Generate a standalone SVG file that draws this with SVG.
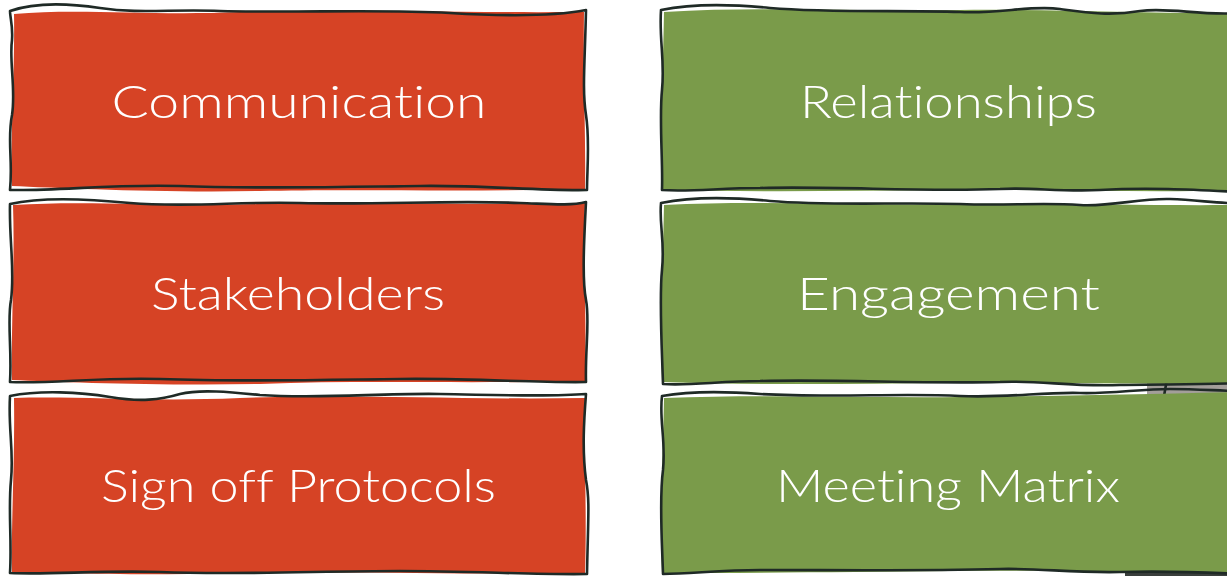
<svg xmlns="http://www.w3.org/2000/svg" width="1227" height="576" viewBox="0 0 1227 576">
<style>
.ol{fill:none;stroke:#1f2a26;stroke-width:2.6;stroke-linejoin:round;stroke-linecap:round}
.red{fill:#d64325}
.grn{fill:#7a9b4a}
.lbl{font-family:Lato,"Open Sans","Liberation Sans",sans-serif;font-weight:300;font-size:46px;fill:#ffffff;text-anchor:middle;font-variant-ligatures:none;font-feature-settings:"liga" 0,"clig" 0}
</style>
<rect width="1227" height="576" fill="#ffffff"/>
<g id="backdrop">
<path d="M1147,377 L1240,375 L1240,398 L1147,397 Z" fill="#a39e9a"/>
<path d="M1167,379 L1164,396" class="ol" stroke-width="2"/>
<path d="M1125,573 C1150,571 1190,572 1240,573 L1240,580 L1125,580 Z" fill="#3a3f3c"/>
</g>
<g id="communication">
<path class="red" d="M14,14 C80,8 150,16 240,12 C340,9 450,13 584,12 C583,80 586,140 585,189 C480,192 350,189 260,191 C160,193 60,188 12,186 C10,140 15,70 14,14 Z"/>
<path class="ol" d="M10,11 C30,4 60,2 100,8 C140,14 170,9 220,11 C300,13 380,9 450,13 C500,16 550,17 586,10 C585,60 582,90 586,115 C590,140 587,170 587,190 C540,191 480,185 420,186 C340,187 260,189 180,186 C110,184 60,191 10,190 C13,160 7,140 12,115 C16,90 9,60 12,40 C13,25 10,18 10,11 Z"/>
<text class="lbl" x="299" y="118" textLength="375" lengthAdjust="spacingAndGlyphs">Communication</text>
</g>
<g id="stakeholders">
<path class="red" d="M13,205 C90,200 160,207 260,204 C360,201 470,206 585,203 C583,260 587,330 585,381 C470,384 360,380 260,384 C160,386 60,382 12,380 C11,320 15,260 13,205 Z"/>
<path class="ol" d="M10,204 C40,197 80,198 130,203 C190,208 240,201 300,203 C380,205 450,200 520,203 C550,204 570,206 586,202 C584,240 582,280 586,300 C590,320 585,350 586,382 C540,383 470,378 400,379 C320,380 240,382 160,379 C100,377 50,384 10,382 C12,350 7,320 11,300 C15,270 9,240 10,204 Z"/>
<text class="lbl" x="298" y="310" textLength="294" lengthAdjust="spacingAndGlyphs">Stakeholders</text>
</g>
<g id="signoff">
<path class="red" d="M14,398 C80,396 150,402 240,398 C350,394 460,400 585,398 C584,450 587,520 585,573 C470,575 360,571 260,573 C160,576 60,573 12,572 C11,520 15,460 14,398 Z"/>
<path class="ol" d="M10,396 C40,390 80,392 110,397 C140,402 160,400 180,394 C200,389 230,392 260,395 C320,399 380,393 440,394 C500,395 550,397 586,394 C584,420 582,450 586,480 C590,500 588,520 587,574 C540,575 470,571 400,571 C320,571 240,575 160,572 C100,570 50,575 10,573 C12,540 8,510 11,480 C14,450 8,430 10,396 Z"/>
<text class="lbl" x="298.5" y="502" textLength="395" lengthAdjust="spacingAndGlyphs">Sign off Protocols</text>
</g>
<g id="relationships">
<path class="grn" d="M664,12 C760,6 860,12 960,10 C1060,9 1150,14 1240,13 L1240,190 C1150,193 1050,189 950,190 C850,191 750,192 662,190 C660,140 663,70 664,12 Z"/>
<path class="ol" d="M661,10 C690,4 730,4 770,8 C830,13 900,10 960,12 C1000,14 1030,5 1060,9 C1090,13 1110,16 1140,11 C1170,7 1200,16 1240,13 M1240,192 C1200,190 1150,187 1100,190 C1060,192 1030,187 1000,189 C920,192 840,186 760,188 C720,188 690,192 662,190 C663,160 659,120 662,90 C665,60 659,40 661,10"/>
<text class="lbl" x="948.5" y="118" textLength="297" lengthAdjust="spacingAndGlyphs">Relationships</text>
</g>
<g id="engagement">
<path class="grn" d="M664,205 C760,200 860,206 960,204 C1060,203 1150,206 1240,205 L1240,383 C1150,385 1050,382 950,383 C850,384 750,385 662,382 C660,320 663,260 664,205 Z"/>
<path class="ol" d="M661,203 C690,197 730,197 770,201 C830,206 900,202 960,204 C1010,206 1040,202 1080,205 C1110,207 1140,198 1170,199 C1200,200 1220,204 1240,203 M1240,383 C1200,385 1160,384 1120,385 C1070,387 1040,380 1000,382 C920,384 840,379 760,381 C720,381 690,386 663,384 C662,350 659,300 662,270 C665,240 659,225 661,203"/>
<text class="lbl" x="948.5" y="310" textLength="303" lengthAdjust="spacingAndGlyphs">Engagement</text>
</g>
<g id="meetingmatrix">
<path class="grn" d="M664,398 C760,394 860,398 960,397 C1060,396 1150,394 1240,392 L1240,572 C1150,573 1050,570 950,571 C850,572 750,573 662,573 C660,520 663,450 664,398 Z"/>
<path class="ol" d="M662,396 C690,391 720,391 760,394 C830,398 900,393 960,396 C1010,398 1040,392 1080,393 C1110,394 1140,389 1170,389 C1200,389 1220,391 1240,391 M1240,574 C1200,572 1160,571 1120,572 C1070,573 1040,568 1000,569 C920,571 840,570 760,570 C720,570 690,574 663,574 C662,540 659,500 663,470 C666,440 659,420 662,396"/>
<text class="lbl" x="948" y="502" textLength="344" lengthAdjust="spacingAndGlyphs">Meeting Matrix</text>
</g>
<g id="connectors"></g>
</svg>
